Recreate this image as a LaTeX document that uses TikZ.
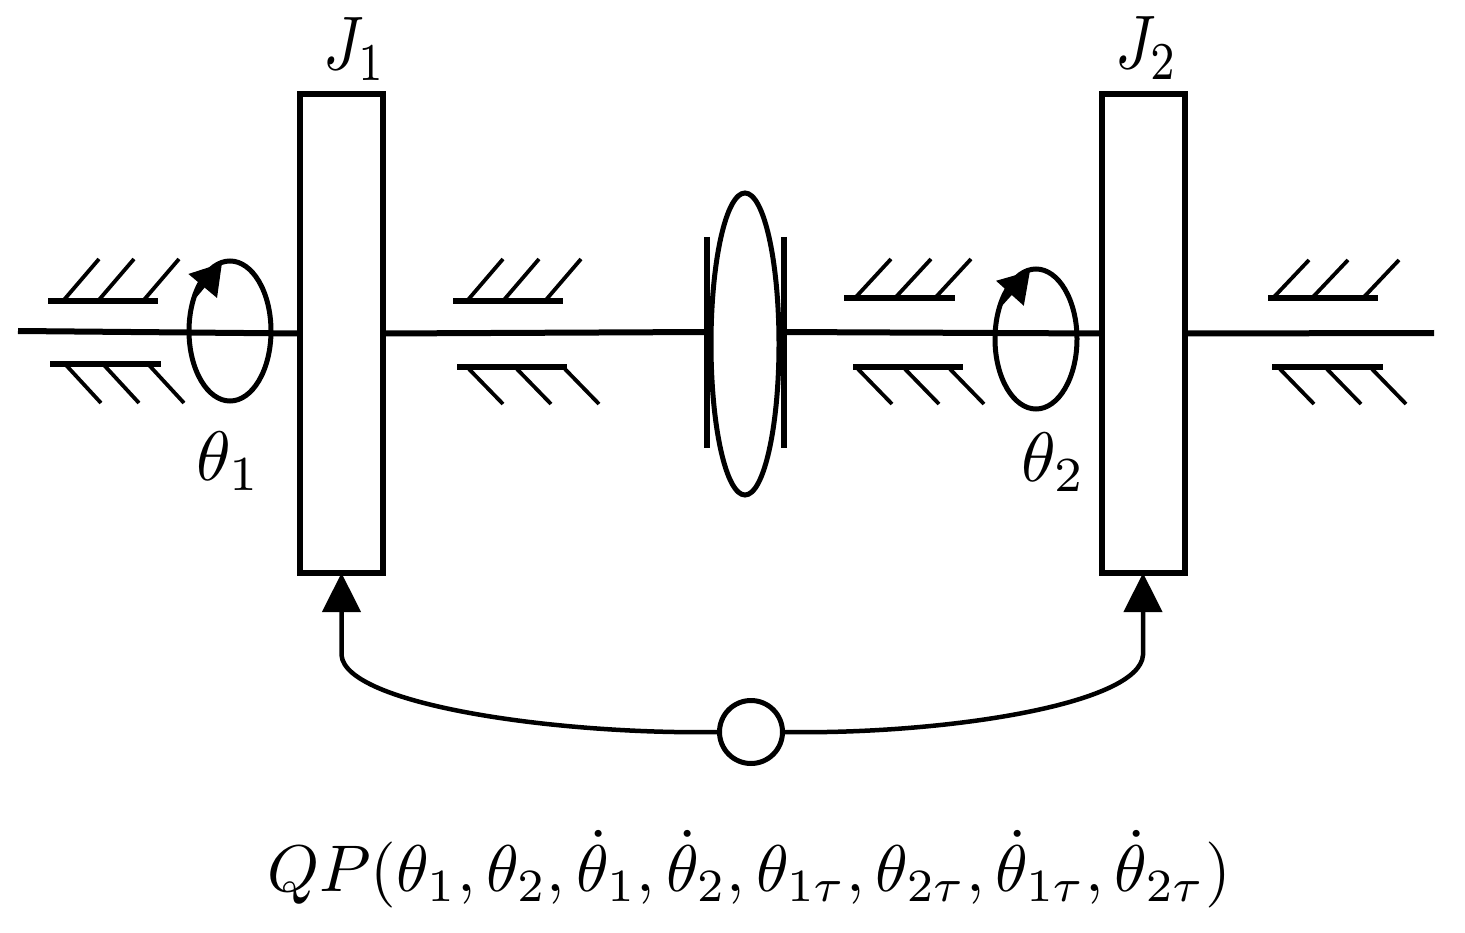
\documentclass[tikz,border=0pt]{standalone}
\usepackage{amsmath}
\usetikzlibrary{arrows.meta,shapes.geometric}

\begin{document}
\begin{tikzpicture}[
  x=1pt, y=-1pt,
  every node/.style = {inner sep=0pt, outer sep=0pt},
  disc/.style = {shape=rectangle, draw, line width=6pt, minimum width=83pt, minimum height=479pt},
  oval/.style = {shape=ellipse, draw, line width=5pt},
  shaft/.style = {line width=6pt},
  bar/.style = {line width=5.5pt},
  hatch/.style = {line width=3.8pt},
  turn/.style = {line width=5pt, -{Triangle[length=30pt,width=36pt]}},
  feed/.style = {line width=4.5pt, -{Triangle[length=39pt,width=38pt]}},
  lab/.style = {scale=7},
  labj/.style = {xscale=6.2, yscale=7.6},
  labqp/.style = {scale=6.6}
]
  \useasboundingbox (0,0) rectangle (1465,933);

  \node[disc] (disc1) at (341.5,333.5) {};
  \node[disc] (disc2) at (1143,333.5) {};
  \node[oval, minimum width=68pt, minimum height=302pt] (clutch) at (745,344) {};
  \node[oval, minimum width=82pt, minimum height=140pt] (rot1) at (230,331) {};
  \node[oval, minimum width=82pt, minimum height=140pt] (rot2) at (1036,339) {};
  \node[oval, minimum width=63pt, minimum height=63pt] (qp) at (751,732) {};

  \coordinate (shaftL) at (18,331);
  \coordinate (shaftR) at (1434,333);
  \coordinate (clutchL) at (707,332);
  \coordinate (clutchR) at (784,332);
  \draw[shaft] (shaftL) -- (disc1.west);
  \draw[shaft] (disc1.east) -- (clutchL);
  \draw[shaft] (clutchR) -- (disc2.west);
  \draw[shaft] (disc2.east) -- (shaftR);

  % clutch plates
  \draw[bar] (707,237) -- (707,448);
  \draw[bar] (784,237) -- (784,448);

  % bearings
  \foreach \xa/\xb/\ya/\dy/\p/\q/\r in {
      48/158/301/-42/63/98/143, 50/161/364/39/65/103/148,
      453/563/301/-42/467/503/545, 457/567/367/37/467/515/563,
      844/955/298/-39/855/895/935, 853/963/367/37/856/903/948,
      1268/1378/298/-38/1273/1312/1363, 1272/1383/367/37/1278/1325/1370} {
    \draw[bar] (\xa,\ya) -- (\xb,\ya);
    \foreach \a in {\p,\q,\r} {
      \draw[hatch] (\a,\ya) -- ++(36,\dy);
    }
  }

  \coordinate (tip1) at (222,263);
  \coordinate (tip2) at (1030,271);
  \draw[turn] (rot1.135) -- (tip1);
  \draw[turn] (rot2.135) -- (tip2);

  \draw[feed] (qp.west) .. controls (560,735) and (345,705) .. (341.5,655) -- (disc1.south);
  \draw[feed] (qp.east) .. controls (940,735) and (1140,705) .. (1143,655) -- (disc2.south);

  \node[labj] (j1) at (355,49) {$J_1$};
  \node[labj] (j2) at (1147,48) {$J_2$};
  \node[lab] (th1) at (229,461) {$\theta_1$};
  \node[lab] (th2) at (1054,462) {$\theta_2$};
  \node[labqp] (qplab) at (749,869) {$QP(\theta_1,\theta_2,\dot{\theta}_1,\dot{\theta}_2,\theta_{1\tau},\theta_{2\tau},\dot{\theta}_{1\tau},\dot{\theta}_{2\tau})$};
\end{tikzpicture}
\end{document}
